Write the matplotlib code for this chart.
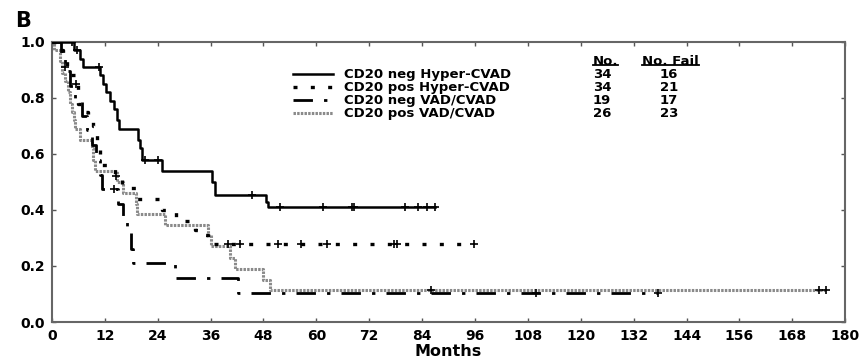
import matplotlib
matplotlib.use("Agg")
import matplotlib.pyplot as plt
from matplotlib.lines import Line2D

plt.rcParams['font.family'] = ['DejaVu Sans']
plt.rcParams['font.weight'] = 'bold'

# ---------------- data ----------------
labels = ["CD20 neg Hyper-CVAD", "CD20 pos Hyper-CVAD", "CD20 neg VAD/CVAD", "CD20 pos VAD/CVAD"]
n_pts = ["34", "34", "19", "26"]
n_fail = ["16", "21", "17", "23"]

# event times (months) and survival after each event
neg_hyper_t = [5.0, 6.4, 7.0, 10.8, 11.5, 12.3, 13.2, 14.0, 14.8, 15.3, 19.6, 20.0, 20.4, 25.0, 36.3, 37.0, 48.5, 49.0]
neg_hyper_s = [0.97, 0.94, 0.91, 0.88, 0.85, 0.82, 0.79, 0.76, 0.72, 0.69, 0.65, 0.62, 0.58, 0.54, 0.50, 0.455, 0.43, 0.41]
neg_hyper_end = 87.0
neg_hyper_cens_t = [4.5, 5.6, 10.6, 21.0, 24.0, 45.5, 51.8, 61.6, 68.0, 68.6, 80.2, 83.0, 85.0, 87.0]
neg_hyper_cens_s = [1.0, 0.97, 0.91, 0.58, 0.58, 0.455, 0.41, 0.41, 0.41, 0.41, 0.41, 0.41, 0.41, 0.41]

pos_hyper_t = [1.0, 2.5, 3.5, 4.0, 5.2, 5.8, 6.0, 7.0, 8.2, 9.3, 10.2, 10.5, 10.8, 11.0, 14.3, 16.0, 19.3, 25.0, 28.2, 32.5, 34.8, 35.3]
pos_hyper_s = [0.97, 0.94, 0.91, 0.88, 0.85, 0.82, 0.78, 0.75, 0.73, 0.70, 0.65, 0.62, 0.59, 0.56, 0.52, 0.48, 0.44, 0.40, 0.36, 0.33, 0.31, 0.28]
pos_hyper_end = 95.7
pos_hyper_cens_t = [3.0, 5.5, 14.5, 40.0, 42.7, 51.4, 56.4, 62.3, 77.5, 78.4, 95.7]
pos_hyper_cens_s = [0.91, 0.85, 0.52, 0.28, 0.28, 0.28, 0.28, 0.28, 0.28, 0.28, 0.28]

neg_vad_t = [2.0, 3.0, 4.0, 5.2, 6.8, 8.0, 9.0, 10.0, 11.0, 11.4, 15.0, 16.2, 17.0, 18.0, 18.4, 28.0, 42.3]
neg_vad_s = [0.947, 0.895, 0.842, 0.789, 0.737, 0.684, 0.632, 0.579, 0.526, 0.474, 0.42, 0.37, 0.32, 0.26, 0.21, 0.158, 0.105]
neg_vad_end = 137.5
neg_vad_cens_t = [14.0, 109.8, 137.5]
neg_vad_cens_s = [0.474, 0.105, 0.105]

pos_vad_t = [0.5, 1.8, 2.3, 3.0, 3.6, 4.0, 4.5, 5.0, 5.2, 6.4, 9.0, 9.3, 9.8, 14.7, 16.2, 19.0, 19.3, 25.7, 35.5, 36.0, 40.5, 41.5, 48.0, 49.5]
pos_vad_s = [0.97, 0.93, 0.89, 0.86, 0.82, 0.78, 0.75, 0.72, 0.69, 0.65, 0.62, 0.58, 0.54, 0.50, 0.46, 0.42, 0.385, 0.345, 0.31, 0.27, 0.23, 0.19, 0.15, 0.115]
pos_vad_end = 175.7
pos_vad_cens_t = [86.0, 174.0, 175.7]
pos_vad_cens_s = [0.115, 0.115, 0.115]

x_ticks = list(range(0, 181, 12))
y_ticks = [0.0, 0.2, 0.4, 0.6, 0.8, 1.0]

# ---------------- figure ----------------
fig = plt.figure(figsize=(8.66, 3.61), dpi=100)
ax = fig.add_axes([0.060, 0.108, 0.916, 0.776])

def km_xy(t, s, end):
    xs = [0.0] + list(t) + [end]
    ys = [1.0] + list(s) + [s[-1]]
    return xs, ys

styles = [
    dict(color='black', lw=1.8, linestyle='-'),
    dict(color='black', lw=2.4, linestyle=(0, (1.2, 4.0))),
    dict(color='black', lw=2.0, linestyle=(0, (7, 4, 1.2, 4))),
    dict(color='#8a8a8a', lw=2.2, linestyle=(0, (0.8, 0.4))),
]
series = [
    (neg_hyper_t, neg_hyper_s, neg_hyper_end, neg_hyper_cens_t, neg_hyper_cens_s),
    (pos_hyper_t, pos_hyper_s, pos_hyper_end, pos_hyper_cens_t, pos_hyper_cens_s),
    (neg_vad_t, neg_vad_s, neg_vad_end, neg_vad_cens_t, neg_vad_cens_s),
    (pos_vad_t, pos_vad_s, pos_vad_end, pos_vad_cens_t, pos_vad_cens_s),
]
for i in [3, 2, 1, 0]:
    t, s, end, ct, cs = series[i]
    xs, ys = km_xy(t, s, end)
    ax.step(xs, ys, where='post', **styles[i], zorder=3)
    ax.plot(ct, cs, linestyle='none', marker='+', color='black', markersize=6, mew=1.2, zorder=5)

ax.set_xlim(0, 180)
ax.set_ylim(0, 1.0)
ax.set_xticks(x_ticks)
ax.set_yticks(y_ticks)
ax.set_yticklabels([f"{v:.1f}" for v in y_ticks])
ax.tick_params(direction='in', length=3, width=1, top=True, right=True,
               labelsize=10, colors='#555555', labelcolor='black', pad=5)
for lab in ax.get_xticklabels() + ax.get_yticklabels():
    lab.set_fontweight('bold')
for sp in ax.spines.values():
    sp.set_color('#666666')
    sp.set_linewidth(1.5)
ax.set_xlabel('Months', fontsize=11.5, fontweight='bold', labelpad=1)

FS = 9.5
handles = [Line2D([], [], **styles[i]) for i in range(4)]
leg = ax.legend(handles, labels, loc='upper left', bbox_to_anchor=(0.304, 0.905),
                frameon=False, handlelength=3.0, handletextpad=0.85, labelspacing=0.0,
                borderpad=0, borderaxespad=0,
                prop=dict(family='DejaVu Sans', weight='bold', size=FS))

fig.canvas.draw()
r = fig.canvas.get_renderer()
inv = ax.transAxes.inverted()

# align table rows with legend rows
row_y = []
for txt in leg.get_texts():
    bb = txt.get_window_extent(r)
    row_y.append(inv.transform((0, (bb.y0 + bb.y1) / 2))[1])

col1 = 0.682
col2 = 0.766
for y, a, b in zip(row_y, n_pts, n_fail):
    ax.text(col1, y, a, transform=ax.transAxes, fontsize=FS, fontweight='bold', va='center')
    ax.text(col2, y, b, transform=ax.transAxes, fontsize=FS, fontweight='bold', va='center')

h1 = ax.text(col1, 0.93, "No.", transform=ax.transAxes, fontsize=FS, fontweight='bold', va='center')
h2 = ax.text(0.744, 0.93, "No. Fail", transform=ax.transAxes, fontsize=FS, fontweight='bold', va='center')
fig.canvas.draw()
for h in (h1, h2):
    bb = h.get_window_extent(r)
    (x0, y0), (x1, y1) = inv.transform([(bb.x0, bb.y0), (bb.x1, bb.y1)])
    ax.plot([x0, x1], [y0 + 0.012, y0 + 0.012], transform=ax.transAxes, color='black', lw=1.3, clip_on=False)

fig.text(0.018, 0.925, "B", fontsize=15, fontweight='heavy', family='DejaVu Sans')

fig.savefig('out.png', dpi=100)
